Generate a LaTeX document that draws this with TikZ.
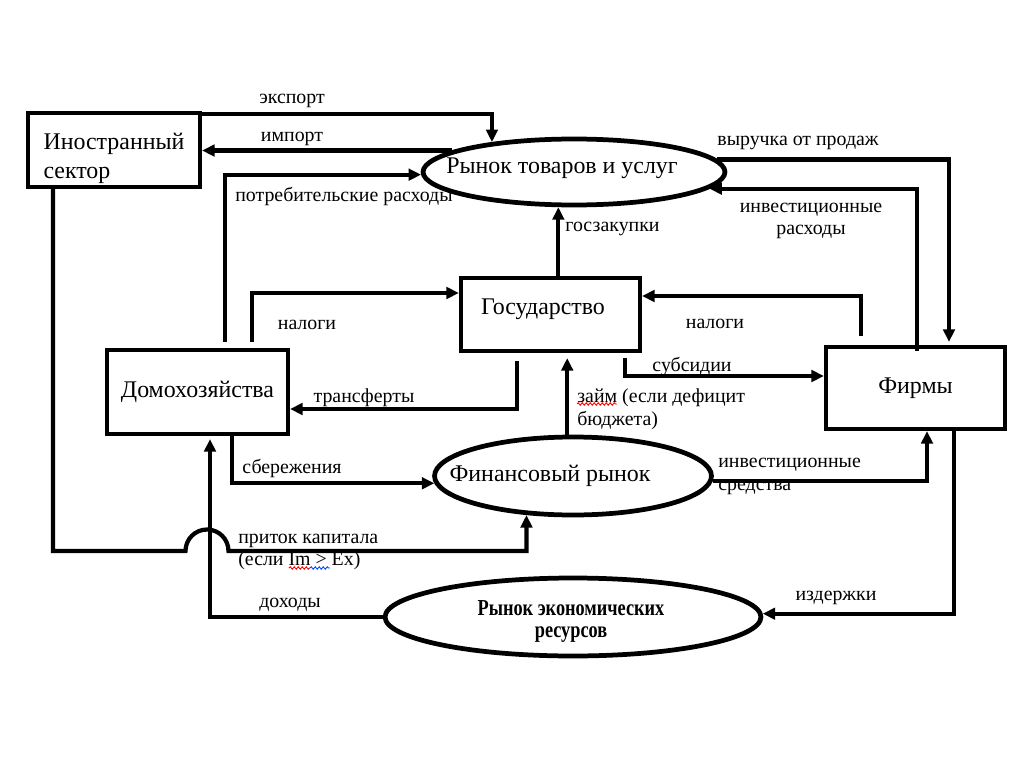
\documentclass[tikz,border=0pt]{standalone}
\usepackage{fontspec}
\setmainfont{Liberation Serif}
\newfontfamily\condfont{Liberation Serif}[FakeStretch=0.8]
\usetikzlibrary{arrows.meta,shapes.geometric,calc,decorations.pathmorphing}
\begin{document}
\begin{tikzpicture}[x=0.02cm,y=-0.02cm,
  arr/.style={line width=2.4pt,-{Triangle[length=0.25cm,width=0.23cm]}},
  box/.style={draw,line width=2.4pt,inner sep=0pt,font=\fontsize{13.6}{15.3}\selectfont},
  oval/.style={draw,ellipse,line width=2.7pt,inner sep=0pt},
  big/.style={inner sep=0pt,font=\fontsize{13.6}{15.3}\selectfont},
  lbl/.style={inner sep=0pt,font=\fontsize{11.3}{13}\selectfont},
  squig/.style={line width=0.5pt,decorate,decoration={snake,amplitude=0.025cm,segment length=0.08cm}}
]
\useasboundingbox (0,0) rectangle (1024,767);
\fill[white] (0,0) rectangle (1024,767);

% labels
\node[lbl] (lexp) at (292,101) {экспорт};
\node[lbl] (limp) at (292,139) {импорт};
\node[lbl,anchor=west] (lcons) at (235,197) {потребительские расходы};
\node[lbl] (lrev) at (798,143) {выручка от продаж};
\node[lbl,align=center] (linv) at (811,221) {инвестиционные\\расходы};
\node[lbl,anchor=west] (lgz) at (565,229) {госзакупки};
\node[lbl] (ltaxa) at (307,325) {налоги};
\node[lbl] (ltaxb) at (715,324) {налоги};
\node[lbl] (lsub) at (692,367) {субсидии};
\node[lbl] (ltr) at (364,398) {трансферты};
\node[lbl,anchor=west,align=left] (lloan) at (577,409.5) {займ (если дефицит\\бюджета)};
\node[lbl] (lsav) at (292,469) {сбережения};
\node[lbl,anchor=west,align=left] (linvf) at (718,476.5) {инвестиционные\\средства};
\node[lbl,anchor=west,align=left] (lcap) at (238,552) {приток капитала\\(если Im > Ex)};
\node[lbl] (linc) at (290,605) {доходы};
\node[lbl] (lcost) at (836,598) {издержки};

% spell-check squiggles
\draw[squig,red] (577,404) -- (617,404);
\draw[squig,red] (289,568) -- (310,568);
\draw[squig,blue!70!cyan] (310,568) -- (330,568);

% boxes
\node[box,align=left,minimum width=3.44cm,minimum height=1.48cm,font=\fontsize{13.6}{16}\selectfont] (fs) at (114,150) {\rule{0pt}{0.66cm}Иностранный\\сектор};
\node[box,minimum width=3.58cm,minimum height=1.46cm,text height=0.3cm,text depth=0.3cm] (gov) at (550.5,314.5) {Государство\hspace*{0.3cm}};
\node[box,minimum width=3.62cm,minimum height=1.68cm] (hh) at (197.5,392) {Домохозяйства};
\node[box,minimum width=3.58cm,minimum height=1.64cm] (fi) at (915.5,388) {Фирмы};

% ellipses
\node[oval,minimum width=6.04cm,minimum height=1.32cm] (gm) at (574,172) {};
\node[big] (gmt) at (562,168) {Рынок товаров и услуг};
\node[oval,minimum width=5.54cm,minimum height=1.56cm] (fm) at (573,476) {};
\node[big] (fmt) at (550,476) {Финансовый рынок};
\node[oval,minimum width=7.52cm,minimum height=1.56cm] (rm) at (573,617) {};
\node[inner sep=0pt,align=center,font=\condfont\bfseries\fontsize{13}{13}\selectfont] (rmt) at (571,621.5) {Рынок экономических\\ресурсов};

% connectors
\draw[arr] (fs.east |- 0,114) -| (gm.160.8);
\draw[arr] (gm.170.9) -- (fs.east |- gm.170.9);
\draw[arr] ($(hh.north -| 225,0)+(0,-6)$) |- (gm.181.1);
\draw[arr] (gm.5.7) -| ($(fi.north -| 949,0)+(0,-3)$);
\draw[arr] ($(fi.north -| 917,0)+(0,6)$) |- (gm.353.3);
\draw[arr] (gov.north -| gm.246.7) -- (gm.246.7);
\draw[arr] ($(hh.north -| 252,0)+(0,-6)$) |- (gov.west |- 0,293);
\draw[arr] ($(fi.north -| 861,0)+(0,-9)$) |- (gov.east |- 0,296);
\draw[arr] ($(gov.south -| 517,0)+(0,8)$) |- (hh.east |- 0,409);
\draw[arr] ($(gov.south -| 625,0)+(0,5)$) |- (fi.west |- 0,376);
\draw[arr] (fm.98.3) -- ($(gov.south -| fm.98.3)+(0,5)$);
\draw[arr] (hh.south -| 232,0) |- (fm.183.8);
\draw[arr] (fm.358.7) -| (fi.south -| 927,0);
\draw[arr] (fs.south -| 53,0) |- (185.5,551) arc[start angle=180,end angle=0,radius=0.43cm] -- (fm.220.1 |- 0,551) -- (fm.220.1);
\draw[arr] (rm.west) -| ($(hh.south -| 210,0)+(0,3)$);
\draw[arr] (fi.south -| 954,0) |- (rm.1.5);
\end{tikzpicture}
\end{document}
